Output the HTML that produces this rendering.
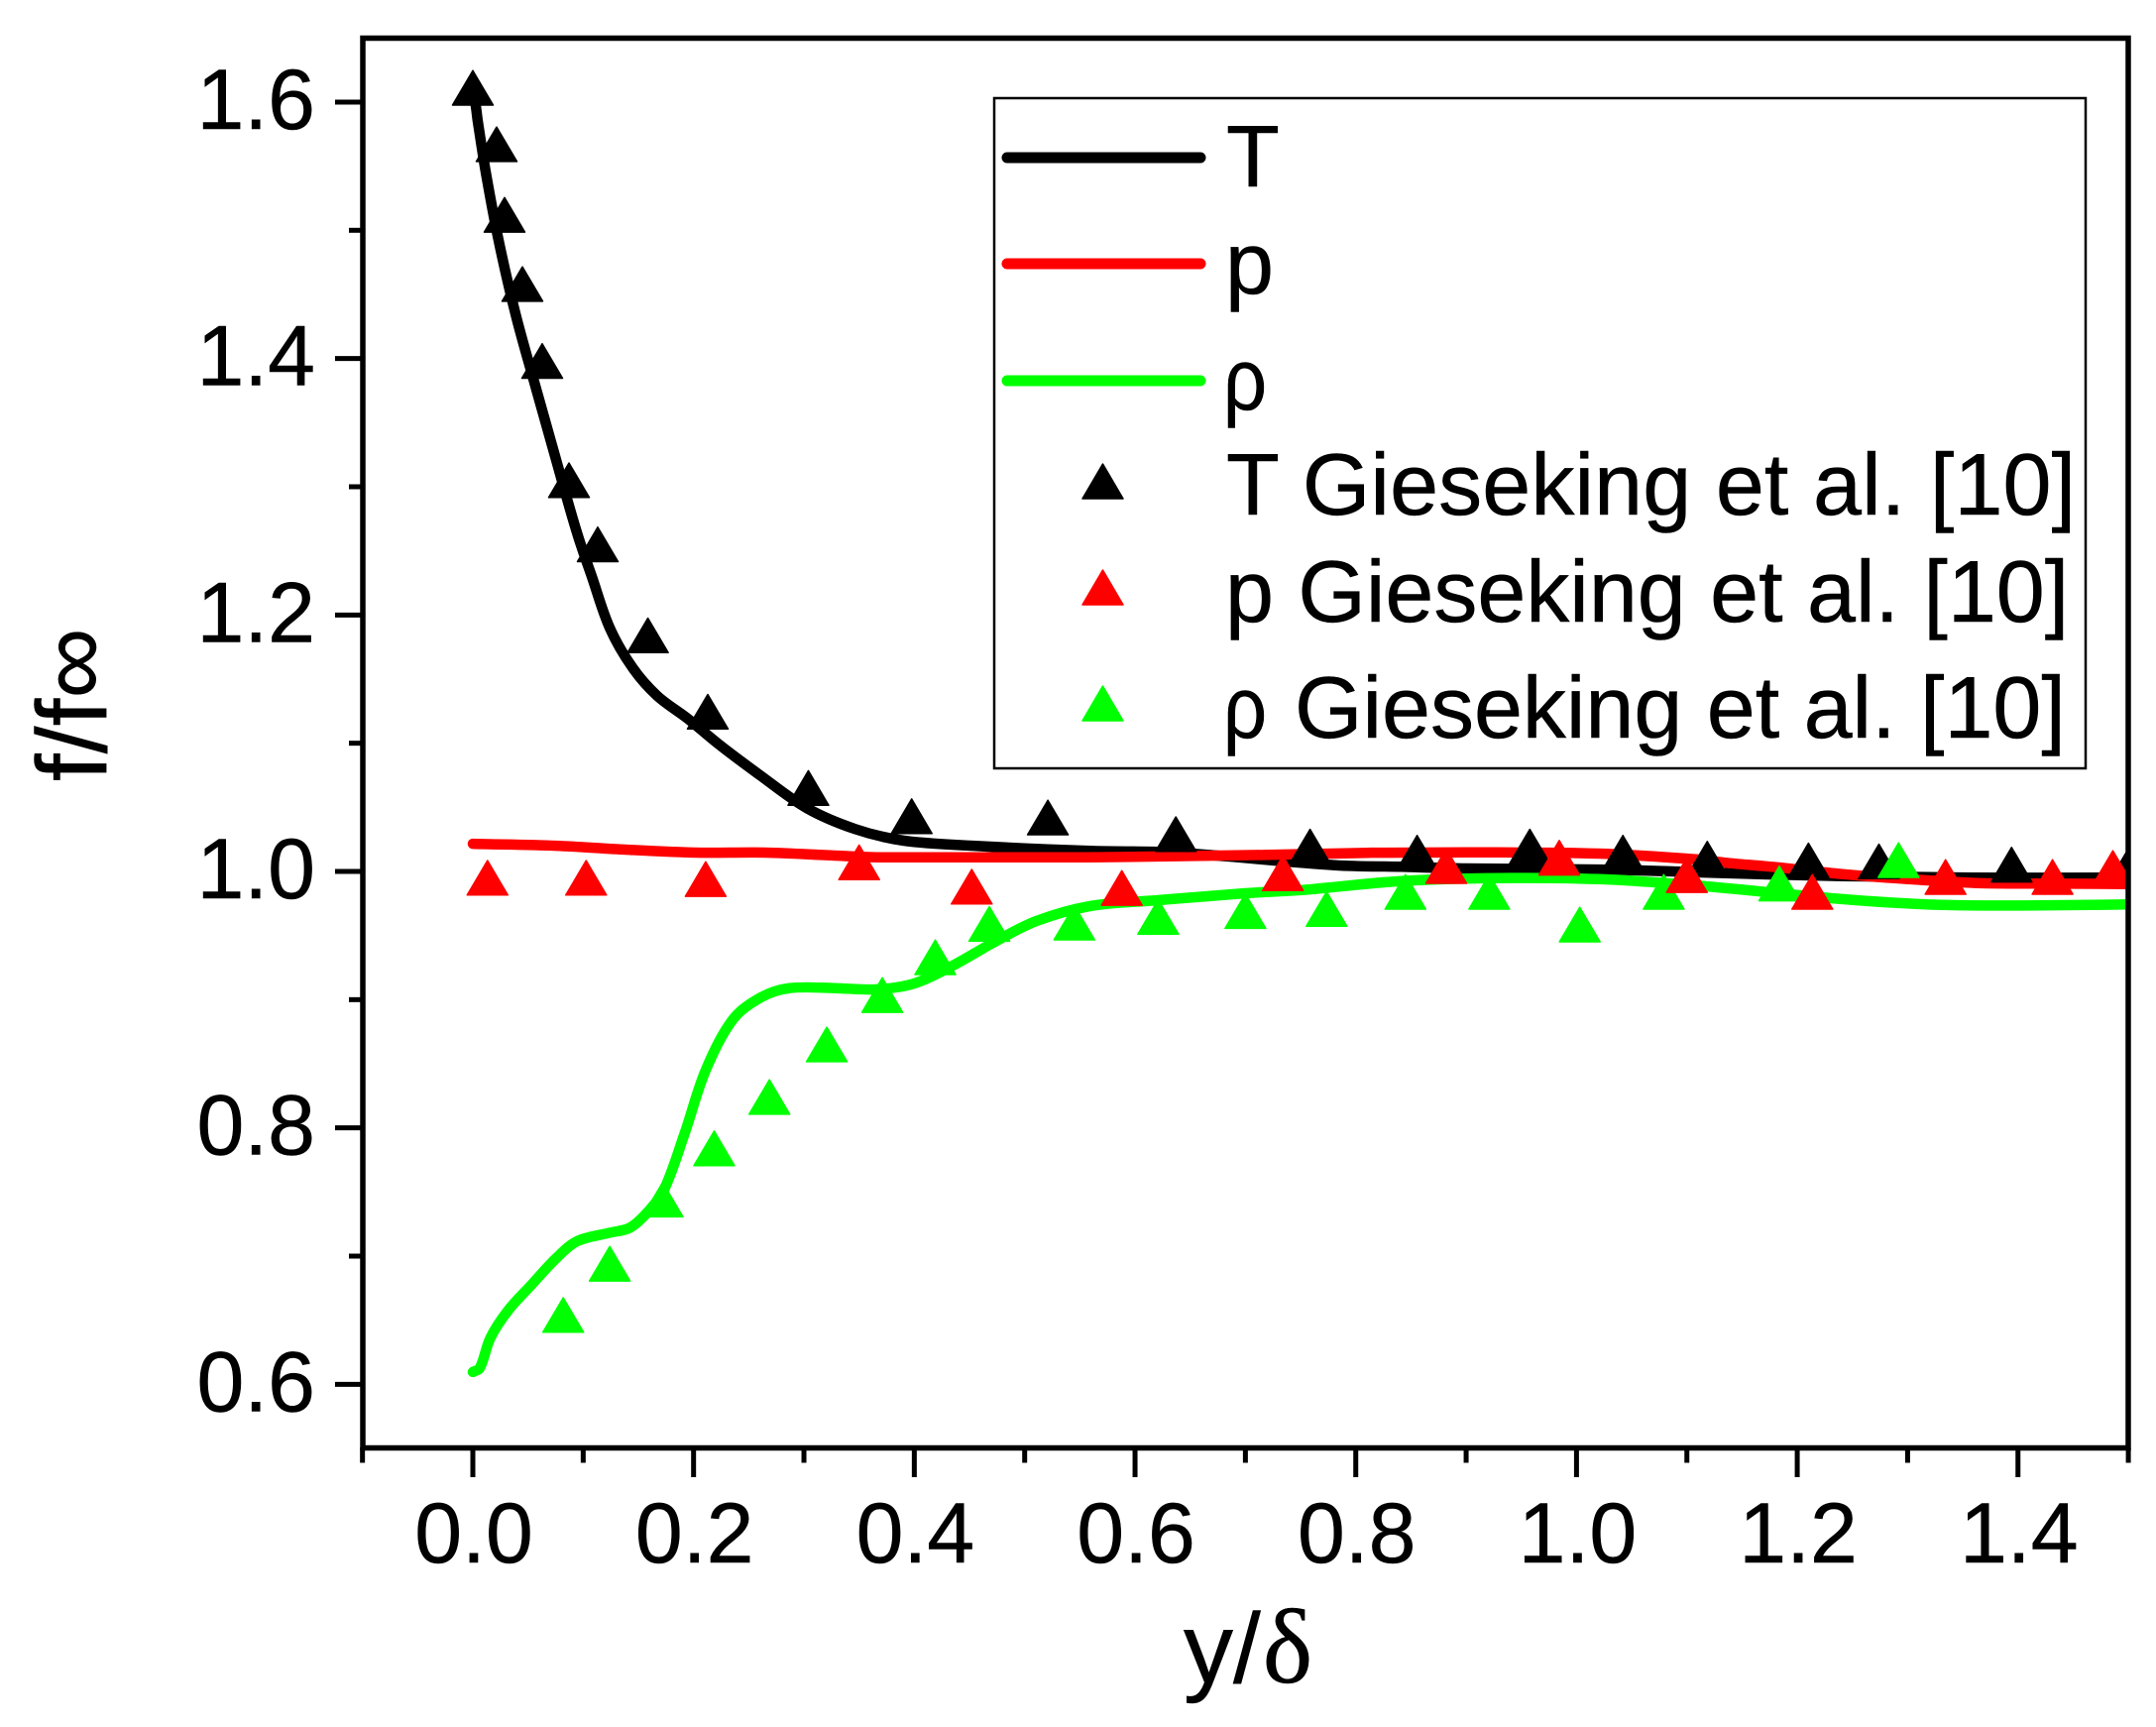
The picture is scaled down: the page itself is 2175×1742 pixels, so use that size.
<!DOCTYPE html>
<html lang="en">
<head>
<meta charset="utf-8">
<title>f/f∞ versus y/δ boundary layer profiles</title>
<style>
html,body{margin:0;padding:0;background:#fff;width:2175px;height:1742px;overflow:hidden}
svg{display:block}
text{font-family:"Liberation Sans",sans-serif;fill:#000;stroke:#000;stroke-width:.5}
</style>
</head>
<body>
<svg id="chart" xmlns="http://www.w3.org/2000/svg" width="2175" height="1742" viewBox="0 0 2175 1742">
  <rect x="0" y="0" width="2175" height="1742" fill="#fff"/>
  <defs><clipPath id="plot-clip"><rect x="366" y="36" width="1782" height="1426"/></clipPath></defs>
  <g id="series-lines" clip-path="url(#plot-clip)"></g>
  <g id="series-points" clip-path="url(#plot-clip)"></g>
  <g id="axes"></g>
  <text x="1194" y="1697" font-size="100">y/<tspan dx="2" font-size="107" font-family="'Liberation Serif',serif">δ</tspan></text>
  <text transform="translate(107,788) rotate(-90)" font-size="100">f/f∞</text>
  <g>
    <rect x="1003" y="99" width="1101" height="676" fill="#fff" stroke="#000" stroke-width="2.5"/>
    <line x1="1016" y1="159" x2="1211" y2="159" stroke="#000" stroke-width="11" stroke-linecap="round"/>
    <text x="1237" y="188" font-size="88">T</text>
    <line x1="1016" y1="266" x2="1211" y2="266" stroke="#f00" stroke-width="11" stroke-linecap="round"/>
    <text x="1236" y="296" font-size="88">p</text>
    <line x1="1016" y1="384" x2="1211" y2="384" stroke="#0f0" stroke-width="11" stroke-linecap="round"/>
    <text transform="translate(1234,413) scale(.88,1)" font-size="88">ρ</text>
    <polygon points="1112.5,468 1092,503 1133,503" fill="#000" stroke="#000" stroke-width="1.5" stroke-linejoin="round"/>
    <text x="1237" y="519" font-size="88" letter-spacing=".12">T Gieseking et al. [10]</text>
    <polygon points="1112.5,575 1092,610 1133,610" fill="#f00" stroke="#f00" stroke-width="1.5" stroke-linejoin="round"/>
    <text x="1236" y="627" font-size="88">p Gieseking et al. [10]</text>
    <polygon points="1112.5,692 1092,727 1133,727" fill="#0f0" stroke="#0f0" stroke-width="1.5" stroke-linejoin="round"/>
    <text transform="translate(1234,744) scale(.88,1)" font-size="88">ρ</text>
    <text x="1306" y="744" font-size="88">Gieseking et al. [10]</text>
  </g>
</svg>
<script>
// Axis tick values
const xMajorTicks = [0.0, 0.2, 0.4, 0.6, 0.8, 1.0, 1.2, 1.4];
const xMinorTicks = [-0.1, 0.1, 0.3, 0.5, 0.7, 0.9, 1.1, 1.3, 1.5];
const yMajorTicks = [0.6, 0.8, 1.0, 1.2, 1.4, 1.6];
const yMinorTicks = [0.7, 0.9, 1.1, 1.3, 1.5];

// Simulation curves
const lineTX = [0, 0.0023, 0.0045, 0.0117, 0.0229, 0.0386, 0.0575, 0.0754, 0.094, 0.1078, 0.124, 0.1446, 0.167, 0.195, 0.222, 0.2587, 0.3024, 0.3466, 0.3907, 0.4536, 0.5595, 0.637, 0.7811, 0.841, 0.9008, 1.0207, 1.0805, 1.1507, 1.2406, 1.3604, 1.4801, 1.503];
const lineTY = [1.605, 1.5987, 1.585, 1.5455, 1.494, 1.435, 1.376, 1.321, 1.265, 1.23, 1.19, 1.159, 1.137, 1.119, 1.0997, 1.076, 1.0495, 1.033, 1.024, 1.02, 1.016, 1.0147, 1.0049, 1.0036, 1.0023, 1.0015, 1.0002, 0.9982, 0.9964, 0.9951, 0.9951, 0.9951];
const linePX = [0, 0.0757, 0.1385, 0.2016, 0.2647, 0.3277, 0.372, 0.5595, 0.7212, 0.811, 0.9008, 1.0207, 1.1105, 1.1358, 1.1808, 1.2406, 1.3005, 1.3604, 1.42, 1.503];
const linePY = [1.0216, 1.02, 1.017, 1.0147, 1.0147, 1.0124, 1.011, 1.011, 1.0129, 1.0145, 1.0149, 1.0139, 1.0093, 1.0067, 1.0033, 0.9979, 0.994, 0.991, 0.9905, 0.9902];
const lineRX = [0, 0.0063, 0.0158, 0.0314, 0.0535, 0.0757, 0.0946, 0.123, 0.142, 0.1575, 0.1733, 0.192, 0.211, 0.236, 0.2615, 0.287, 0.328, 0.3655, 0.4, 0.4347, 0.4727, 0.5105, 0.5595, 0.621, 0.7, 0.7512, 0.8411, 0.9307, 1.0207, 1.1105, 1.2406, 1.3304, 1.42, 1.503];
const lineRY = [0.6096, 0.6126, 0.636, 0.657, 0.678, 0.6985, 0.7116, 0.718, 0.722, 0.7335, 0.752, 0.796, 0.845, 0.885, 0.902, 0.909, 0.909, 0.908, 0.9126, 0.9265, 0.945, 0.9613, 0.973, 0.9776, 0.983, 0.9855, 0.9925, 0.9948, 0.994, 0.9889, 0.9784, 0.9739, 0.9735, 0.9743];

// Gieseking et al. reference points
const refTX = [0, 0.0216, 0.0287, 0.0449, 0.0629, 0.0871, 0.1132, 0.1586, 0.2129, 0.304, 0.3976, 0.521, 0.637, 0.7586, 0.8556, 0.9577, 1.042, 1.1185, 1.2102, 1.274, 1.3942, 1.502];
const refTY = [1.611, 1.567, 1.512, 1.458, 1.398, 1.305, 1.255, 1.184, 1.1245, 1.065, 1.043, 1.042, 1.029, 1.0193, 1.0145, 1.0193, 1.0145, 1.0098, 1.0085, 1.0077, 1.0052, 1.007];
const refPX = [0.0133, 0.1027, 0.211, 0.35, 0.452, 0.588, 0.734, 0.882, 0.9844, 1.1, 1.2137, 1.3344, 1.4313, 1.486];
const refPY = [0.995, 0.995, 0.994, 1.007, 0.988, 0.987, 0.9985, 1.0041, 1.0106, 0.9971, 0.984, 0.9956, 0.9956, 1.0026];
const refRX = [0.0819, 0.124, 0.172, 0.2187, 0.2687, 0.3207, 0.371, 0.419, 0.468, 0.545, 0.621, 0.7, 0.7736, 0.845, 0.921, 1.003, 1.079, 1.1838, 1.2918];
const refRY = [0.654, 0.694, 0.744, 0.784, 0.824, 0.865, 0.9035, 0.933, 0.959, 0.96, 0.9644, 0.969, 0.9706, 0.984, 0.984, 0.9585, 0.984, 0.9905, 1.0087];

const xAxis = v => 477 + 1113.4 * v;
const yAxis = v => 879 + (1 - v) * 1293.4;

const SVGNS = 'http://www.w3.org/2000/svg';
function make(tag, parent, attrs) {
  const el = document.createElementNS(SVGNS, tag);
  for (const k in attrs) el.setAttribute(k, attrs[k]);
  parent.appendChild(el);
  return el;
}

const linesG = document.getElementById('series-lines');
const pointsG = document.getElementById('series-points');
const axesG = document.getElementById('axes');

// Smooth curve through the data points, with tangents scaled by segment length
function smoothPath(xs, ys) {
  const p = xs.map((x, i) => [xAxis(x), yAxis(ys[i])]);
  const tangent = i => {
    const a = p[Math.max(i - 1, 0)], b = p[Math.min(i + 1, p.length - 1)];
    const dx = b[0] - a[0], dy = b[1] - a[1], n = Math.hypot(dx, dy) || 1;
    return [dx / n, dy / n];
  };
  let d = 'M' + p[0][0].toFixed(1) + ',' + p[0][1].toFixed(1);
  for (let i = 0; i < p.length - 1; i++) {
    const len = Math.hypot(p[i + 1][0] - p[i][0], p[i + 1][1] - p[i][1]) / 3;
    const t0 = tangent(i), t1 = tangent(i + 1);
    d += 'C' + (p[i][0] + t0[0] * len).toFixed(1) + ',' + (p[i][1] + t0[1] * len).toFixed(1) + ' ' +
         (p[i + 1][0] - t1[0] * len).toFixed(1) + ',' + (p[i + 1][1] - t1[1] * len).toFixed(1) + ' ' +
         p[i + 1][0].toFixed(1) + ',' + p[i + 1][1].toFixed(1);
  }
  return d;
}

function drawLine(xs, ys, color, name) {
  const el = make('path', linesG, {d: smoothPath(xs, ys), fill: 'none', stroke: color, 'stroke-width': 10.5, 'stroke-linecap': 'round', 'stroke-linejoin': 'round'});
  
  
}
function drawPoints(xs, ys, color, name) {
  xs.forEach((x, i) => {
    const cx = xAxis(x), cy = yAxis(ys[i]);
    const pts = cx.toFixed(1) + ',' + (cy - 17.5).toFixed(1) + ' ' + (cx - 20.5).toFixed(1) + ',' + (cy + 17.3).toFixed(1) + ' ' + (cx + 20.5).toFixed(1) + ',' + (cy + 17.3).toFixed(1);
    const el = make('polygon', pointsG, {points: pts, fill: color, stroke: color, 'stroke-width': 1.5, 'stroke-linejoin': 'round'});
    
    
  });
}

drawLine(lineTX, lineTY, '#000', 'line-t');
drawLine(linePX, linePY, '#f00', 'line-p');
drawLine(lineRX, lineRY, '#0f0', 'line-rho');
drawPoints(refTX, refTY, '#000', 'point-t-gieseking');
drawPoints(refRX, refRY, '#0f0', 'point-rho-gieseking');
drawPoints(refPX, refPY, '#f00', 'point-p-gieseking');

const frame = make('rect', axesG, {x: 366, y: 38.5, width: 1781, height: 1422, fill: 'none', stroke: '#000', 'stroke-width': 5.5});



xMajorTicks.forEach(v => {
  const px = xAxis(v);
  const t = make('line', axesG, {x1: px, x2: px, y1: 1460, y2: 1490, stroke: '#000', 'stroke-width': 5});
  
  
  const l = make('text', axesG, {x: px + 1, y: 1576, 'font-size': 86, 'text-anchor': 'middle'});
  l.textContent = v.toFixed(1);
  
  
});
xMinorTicks.forEach(v => {
  const px = xAxis(v);
  const t = make('line', axesG, {x1: px, x2: px, y1: 1460, y2: 1475.5, stroke: '#000', 'stroke-width': 5});
  
  
});
yMajorTicks.forEach(v => {
  const py = yAxis(v);
  const t = make('line', axesG, {x1: 338, x2: 366, y1: py, y2: py, stroke: '#000', 'stroke-width': 5});
  
  
  const l = make('text', axesG, {x: 318, y: py + 27, 'font-size': 86, 'text-anchor': 'end'});
  l.textContent = v.toFixed(1);
  
  
});
yMinorTicks.forEach(v => {
  const py = yAxis(v);
  const t = make('line', axesG, {x1: 352, x2: 366, y1: py, y2: py, stroke: '#000', 'stroke-width': 5});
  
  
});
</script>
</body>
</html>
